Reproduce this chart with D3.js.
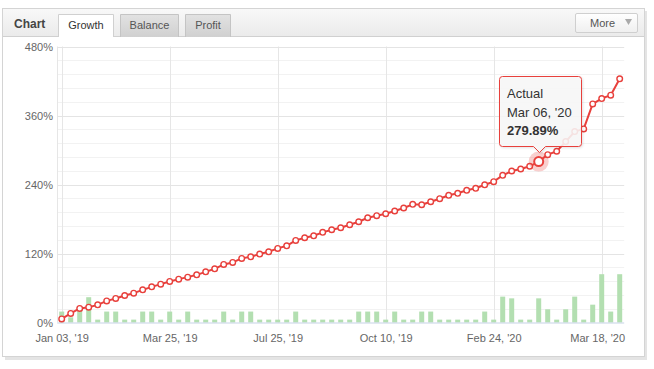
<!DOCTYPE html>
<html><head><meta charset="utf-8">
<script src="https://cdn.jsdelivr.net/npm/d3@7/dist/d3.min.js"></script>
<style>
body{margin:0;background:#fff;}
svg{display:block;font-family:"Liberation Sans",Arial,sans-serif;}
</style></head>
<body>
<svg id="c" width="654" height="369"></svg>
<script>
// ---- data ----
const growth = [6.3,15.7,24.4,26.6,30.7,37.6,41.8,47.0,51.0,56.8,
  62.0,66.7,71.4,75.4,78.9,82.9,88.1,93.4,101.0,104.5,
  111.5,114.3,119.0,123.0,128.9,133.4,142.8,147.4,150.8,156.8,
  161.3,164.8,170.0,175.2,182.2,185.7,189.1,193.9,199.1,205.5,
  204.8,210.0,215.3,221.2,224.7,229.9,233.4,239.5,244.9,256.0,
  263.5,267.0,271.7,279.89,291.9,297.8,314.6,332.0,336.7,380.2,
  389.5,395.4,423.8];
const bars = [19,9,25,44,5,19,19,5,5,19,
  19,5,19,5,19,5,5,5,19,5,
  19,19,5,5,5,5,19,5,5,5,
  5,5,5,19,19,19,5,19,5,5,
  19,19,5,5,5,5,5,19,5,45,
  42,5,5,42,23,5,23,45,5,31,
  84,19,84];
const tickIndex = [0,12,24,36,48,60];
const tickLabels = ["Jan 03, '19","Mar 25, '19","Jul 25, '19","Oct 10, '19","Feb 24, '20","Mar 18, '20"];
const yMajor = [0,120,240,360,480];
const yMinor = [24,48,72,96,144,168,192,216,264,288,312,336,384,408,432,456];
const tabs = ["Growth","Balance","Profit"];
const tooltipIndex = 53;
const tooltipLines = ["Actual","Mar 06, '20","279.89%"];

// ---- layout ----
const svg = d3.select("#c");
const L = 57.2, R = 624.2, T = 46.5, B = 322.5;
const red = "#e8403c";

// panel shadow + frame
svg.append("rect").attr("x",5).attr("y",11).attr("width",642).attr("height",349).attr("fill","#e4e4e4");
svg.append("rect").attr("x",2.5).attr("y",8.5).attr("width",642).attr("height",348).attr("fill","#fff").attr("stroke","#d4d4d4");

const defs = svg.append("defs");
const g1 = defs.append("linearGradient").attr("id","hdr").attr("x1",0).attr("x2",0).attr("y1",0).attr("y2",1);
g1.append("stop").attr("offset","0").attr("stop-color","#f8f8f8");
g1.append("stop").attr("offset","1").attr("stop-color","#ebebeb");
const g2 = defs.append("linearGradient").attr("id","tab").attr("x1",0).attr("x2",0).attr("y1",0).attr("y2",1);
g2.append("stop").attr("offset","0").attr("stop-color","#e2e2e2");
g2.append("stop").attr("offset","1").attr("stop-color","#d0d0d0");
const g3 = defs.append("linearGradient").attr("id","btn").attr("x1",0).attr("x2",0).attr("y1",0).attr("y2",1);
g3.append("stop").attr("offset","0").attr("stop-color","#ffffff");
g3.append("stop").attr("offset","1").attr("stop-color","#efefef");

// header
svg.append("rect").attr("x",3).attr("y",9).attr("width",641).attr("height",27).attr("fill","url(#hdr)");
svg.append("line").attr("x1",3).attr("x2",644).attr("y1",36.5).attr("y2",36.5).attr("stroke","#d0d0d0");
svg.append("text").attr("x",14).attr("y",28).attr("font-size",12).attr("font-weight","bold").attr("fill","#444").text("Chart");

const tabX = [58,120,185], tabW = [56,59,46];
tabs.forEach((t,i)=>{
  const active = i===0;
  svg.append("path")
    .attr("d",`M${tabX[i]+0.5},37 V14.5 H${tabX[i]+tabW[i]-0.5} V37`)
    .attr("fill", active ? "#fff" : "url(#tab)")
    .attr("stroke", active ? "#d0d0d0" : "#c4c4c4");
  svg.append("text").attr("x",tabX[i]+tabW[i]/2).attr("y",29).attr("text-anchor","middle")
    .attr("font-size",11).attr("fill", active ? "#333" : "#555").text(t);
});
// More button
svg.append("rect").attr("x",575.5).attr("y",13.5).attr("width",62).attr("height",19).attr("rx",1.5)
  .attr("fill","url(#btn)").attr("stroke","#cfcfcf");
svg.append("text").attr("x",590).attr("y",27).attr("font-size",11).attr("fill","#555").text("More");
svg.append("path").attr("d","M625,19 L632,19 L628.5,25 Z").attr("fill","#aaa");

// scales
const x = d3.scalePoint().domain(d3.range(growth.length)).range([L,R]).padding(0.5);
const y = d3.scaleLinear().domain([0,480]).range([B,T]);

const plot = svg.append("g");
// minor grid
plot.selectAll(".mn").data(yMinor).join("line")
  .attr("x1",L).attr("x2",R).attr("y1",d=>Math.round(y(d))+0.5).attr("y2",d=>Math.round(y(d))+0.5)
  .attr("stroke","#f2f2f2");
// vertical grid
plot.selectAll(".vg").data(tickIndex).join("line")
  .attr("x1",d=>Math.round(x(d))+0.5).attr("x2",d=>Math.round(x(d))+0.5).attr("y1",T).attr("y2",B)
  .attr("stroke","#e6e6e6");
plot.append("line").attr("x1",57.5).attr("x2",57.5).attr("y1",T).attr("y2",B).attr("stroke","#e6e6e6");
// major grid
plot.selectAll(".mj").data(yMajor.filter(d=>d>0)).join("line")
  .attr("x1",L).attr("x2",R).attr("y1",d=>Math.round(y(d))+0.5).attr("y2",d=>Math.round(y(d))+0.5)
  .attr("stroke","#e4e4e4");

// bars
plot.selectAll(".bar").data(bars).join("rect")
  .attr("x",(d,i)=>x(i)-2.5).attr("width",5)
  .attr("y",d=>y(d)).attr("height",d=>B-y(d))
  .attr("fill","#b3dfb1");

// x axis line
plot.append("line").attr("x1",L).attr("x2",R).attr("y1",B+0.5).attr("y2",B+0.5).attr("stroke","#c6d3e6");

// y axis labels
const ya = svg.append("g").attr("transform","translate(53,0)")
  .call(d3.axisLeft(y).tickValues(yMajor).tickSize(0).tickPadding(0).tickFormat(d=>d+"%"));
ya.select(".domain").remove();
ya.selectAll("text").attr("font-size",11).attr("fill","#666").attr("font-family","Liberation Sans, Arial, sans-serif").attr("dy","0.4em");

// x axis labels
const xa = svg.append("g").attr("transform",`translate(0,${B})`)
  .call(d3.axisBottom(x).tickValues(tickIndex).tickSize(0).tickPadding(0).tickFormat((d,i)=>tickLabels[i]));
xa.select(".domain").remove();
xa.selectAll("text").attr("font-size",11).attr("fill","#666").attr("font-family","Liberation Sans, Arial, sans-serif").attr("y",19).attr("dy",0);
xa.selectAll("text").each(function(){
  const bb = this.getBBox();
  const tr = this.parentNode.transform.baseVal.consolidate().matrix.e;
  const right = tr + bb.x + bb.width;
  if (right > 625) d3.select(this).attr("x", 625 - right);
});

// line
const line = d3.line().x((d,i)=>x(i)).y(d=>y(d));
plot.append("path").datum(growth).attr("d",line).attr("fill","none").attr("stroke",red).attr("stroke-width",2).attr("stroke-linejoin","round");
plot.selectAll(".pt").data(growth).join("circle")
  .attr("cx",(d,i)=>x(i)).attr("cy",d=>y(d)).attr("r",2.8)
  .attr("fill","#fff").attr("stroke",red).attr("stroke-width",1.4);

// hovered point
const hx = x(tooltipIndex), hy = y(growth[tooltipIndex]);
plot.append("circle").attr("cx",hx).attr("cy",hy).attr("r",10).attr("fill",red).attr("opacity",0.25);
plot.append("circle").attr("cx",hx).attr("cy",hy).attr("r",4.5).attr("fill","#fff").attr("stroke",red).attr("stroke-width",2);

// tooltip
const tw = 82, th = 70;
const tx = Math.round(hx) - 40, ty = Math.round(hy) - 86;
const tt = svg.append("g").attr("transform",`translate(${tx+0.5},${ty+0.5})`);
tt.append("path")
  .attr("d",`M3,0 H${tw-3} Q${tw},0 ${tw},3 V${th-3} Q${tw},${th} ${tw-3},${th} H${40+6} L40,${th+6} L${40-6},${th} H3 Q0,${th} 0,${th-3} V3 Q0,0 3,0 Z`)
  .attr("fill","rgba(249,249,249,0.88)").attr("stroke",red).attr("stroke-width",1)
  .style("filter","drop-shadow(1px 1px 1px rgba(0,0,0,0.12))");
tooltipLines.forEach((s,i)=>{
  tt.append("text").attr("x",7.5).attr("y",21.5+i*18.5).attr("font-size",13)
    .attr("font-weight", i===2 ? "bold" : "normal").attr("fill","#333").text(s);
});
</script>
</body></html>
